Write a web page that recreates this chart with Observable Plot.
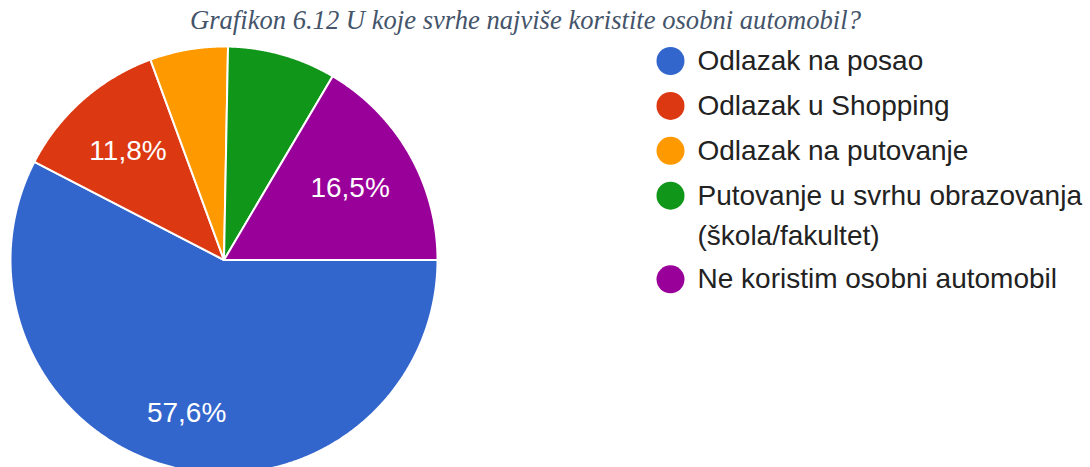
<!DOCTYPE html>
<html>
<head>
<meta charset="utf-8">
<script src="https://cdn.jsdelivr.net/npm/d3@7"></script>
<script src="https://cdn.jsdelivr.net/npm/@observablehq/plot@0.6"></script>
<style>
  html, body { margin: 0; padding: 0; background: #fff; overflow: hidden; }
  #wrap { position: relative; width: 1090px; height: 467px; }
  #title { position: absolute; left: 190px; top: 5px; font-family: "Liberation Serif", "Times New Roman", serif;
           font-style: italic; font-size: 26.6px; color: #44546a; white-space: nowrap; z-index: 2; }
  #chart { position: absolute; left: 0; top: 0; }
</style>
</head>
<body>
<div id="wrap">
  <div id="title">Grafikon 6.12 U koje svrhe najviše koristite osobni automobil?</div>
  <div id="chart"></div>
</div>
<script>
const title = "Grafikon 6.12 U koje svrhe najviše koristite osobni automobil?";
const categories = [
  "Odlazak na posao",
  "Odlazak u Shopping",
  "Odlazak na putovanje",
  "Putovanje u svrhu obrazovanja (škola/fakultet)",
  "Ne koristim osobni automobil"
];
const legendLabels = [
  "Odlazak na posao",
  "Odlazak u Shopping",
  "Odlazak na putovanje",
  "Putovanje u svrhu obrazovanja\n(škola/fakultet)",
  "Ne koristim osobni automobil"
];
const values = [57.6, 11.8, 5.9, 8.2, 16.5];
const colors = ["#3366cc", "#dc3912", "#ff9900", "#109618", "#990099"];

// layout constants
const W = 1090, H = 467;
const cx = 223.5, cy = 259.5, R = 213.5;

const rows = categories.map((c, i) => ({cat: c, value: values[i], legend: legendLabels[i]}));
const arcs = d3.pie().sort(null).value(d => d.value)
  .startAngle(Math.PI / 2).endAngle(Math.PI / 2 + 2 * Math.PI)(rows);

const px = a => cx + R * Math.sin(a);
const py = a => cy - R * Math.cos(a);

const slicePts = [];
for (const a of arcs) {
  const cat = a.data.cat;
  slicePts.push({cat, x: cx, y: cy});
  const n = Math.max(2, Math.ceil((a.endAngle - a.startAngle) / (Math.PI / 720)));
  for (let k = 0; k <= n; k++) {
    const t = a.startAngle + (a.endAngle - a.startAngle) * k / n;
    slicePts.push({cat, x: px(t), y: py(t)});
  }
  slicePts.push({cat, x: cx, y: cy});
}

const labels = arcs.filter(a => a.data.value >= 10).map(a => {
  const mid = (a.startAngle + a.endAngle) / 2;
  const f = a.data.value > 50 ? 0.74 : 0.68;
  return {
    x: cx + f * R * Math.sin(mid),
    y: cy - f * R * Math.cos(mid),
    text: a.data.value.toFixed(1).replace(".", ",") + "%"
  };
});

// legend rows
const legX = 670, legTextX = 697, legY0 = 60.5, rowGap = 44.9, lineGap = 40, extraGap = 38.7;
let yy = legY0;
const legend = [];
const legendLines = [];
for (const r of rows) {
  const lines = r.legend.split("\n");
  legend.push({cat: r.cat, y: yy});
  lines.forEach((t, j) => legendLines.push({text: t, y: yy + j * lineGap}));
  yy += rowGap + (lines.length - 1) * extraGap;
}

const chart = Plot.plot({
  width: W,
  height: H,
  margin: 0,
  x: {domain: [0, W], range: [0, W], axis: null},
  y: {domain: [0, H], range: [0, H], axis: null},
  color: {domain: categories, range: colors},
  style: {background: "transparent", overflow: "hidden"},
  marks: [
    Plot.line(slicePts, {x: "x", y: "y", z: "cat", fill: "cat", stroke: "white", strokeWidth: 2, strokeLinejoin: "round", curve: "linear"}),
    Plot.text(labels, {x: "x", y: "y", text: "text", fill: "white", fontSize: 28,
      fontFamily: "Liberation Sans, Arial, sans-serif"}),
    Plot.dot(legend, {x: () => legX, y: "y", r: 14, fill: "cat", stroke: null}),
    Plot.text(legendLines, {x: () => legTextX, y: "y", text: "text", textAnchor: "start", fill: "#222",
      fontSize: 28, fontFamily: "Liberation Sans, Arial, sans-serif"})
  ]
});
document.getElementById("chart").append(chart);
</script>
</body>
</html>
